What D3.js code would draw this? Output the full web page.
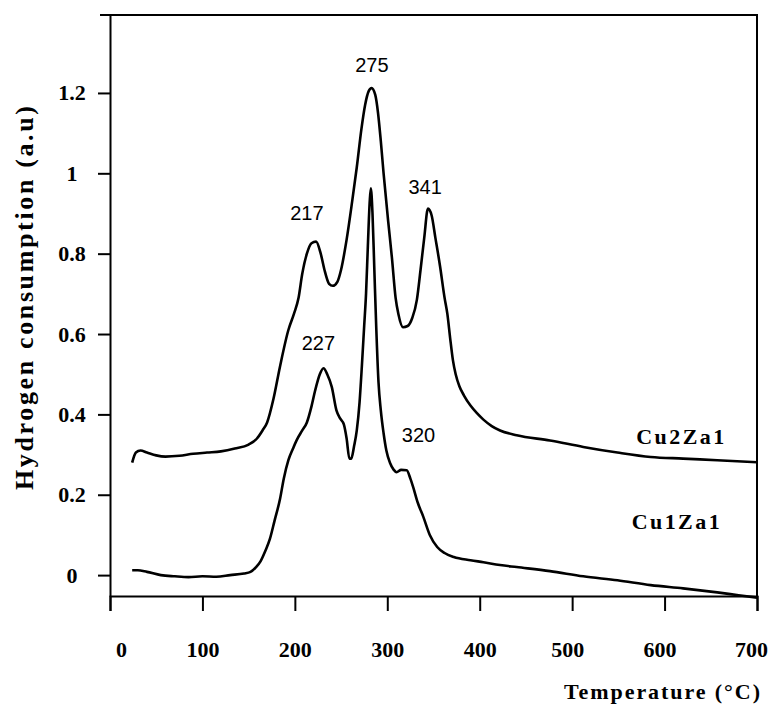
<!DOCTYPE html>
<html>
<head>
<meta charset="utf-8">
<script src="https://cdn.jsdelivr.net/npm/d3@7"></script>
<style>
  html, body { margin: 0; padding: 0; background: #fff; }
  svg { display: block; }
</style>
</head>
<body>
<svg id="chart" width="770" height="709"></svg>
<script>
// ---------------- data ----------------
const xTickValues = [0, 100, 200, 300, 400, 500, 600, 700];
const yTickValues = [0, 0.2, 0.4, 0.6, 0.8, 1, 1.2];

const cu2Temp = [24, 28, 33, 40, 50, 60, 75, 90, 105, 120, 135, 150, 159, 165, 170, 177, 184, 193, 199, 204, 208, 213, 218, 223, 228, 232, 237, 241, 246, 250, 256, 262, 267, 272, 276, 280, 283, 287, 290, 293, 296, 301, 305, 309, 312, 317, 322, 327, 332, 336, 340, 344, 348, 352, 357, 362, 365, 368, 371, 374, 378, 383, 390, 397, 404, 413, 422, 440, 476, 512, 549, 585, 620, 657, 700];
const cu2Value = [0.28, 0.305, 0.31, 0.305, 0.298, 0.295, 0.297, 0.302, 0.305, 0.308, 0.315, 0.325, 0.34, 0.36, 0.38, 0.44, 0.52, 0.61, 0.65, 0.69, 0.75, 0.80, 0.826, 0.83, 0.80, 0.76, 0.725, 0.72, 0.73, 0.76, 0.835, 0.93, 1.015, 1.11, 1.17, 1.205, 1.212, 1.195, 1.15, 1.08, 1.0, 0.88, 0.79, 0.69, 0.65, 0.617, 0.62, 0.64, 0.685, 0.76, 0.84, 0.912, 0.895, 0.84, 0.77, 0.69, 0.65, 0.59, 0.535, 0.5, 0.47, 0.447, 0.422, 0.403, 0.387, 0.371, 0.36, 0.348, 0.335, 0.319, 0.305, 0.294, 0.29, 0.286, 0.281];

const cu1Temp = [24, 30, 40, 55, 70, 85, 100, 115, 130, 145, 152, 158, 163, 168, 173, 178, 184, 188, 193, 198, 202, 208, 213, 218, 222, 227, 231, 235, 240, 245, 249, 253, 256, 259, 261, 264, 267, 270, 272.5, 275, 277, 279, 281, 282.2, 284, 286, 288, 290.5, 293, 296, 299, 303, 307, 310, 315, 321, 325, 328, 333, 339, 346, 354, 362, 372, 390, 404, 422, 440, 476, 512, 549, 585, 620, 657, 680, 700];
const cu1Value = [0.012, 0.012, 0.008, 0.0, -0.003, -0.005, -0.003, -0.004, 0.0, 0.004, 0.008, 0.02, 0.035, 0.06, 0.09, 0.135, 0.19, 0.24, 0.286, 0.315, 0.336, 0.36, 0.38, 0.42, 0.46, 0.5, 0.515, 0.5, 0.468, 0.41, 0.39, 0.375, 0.34, 0.29, 0.29, 0.32, 0.36, 0.43, 0.52, 0.62, 0.7, 0.82, 0.93, 0.963, 0.9, 0.76, 0.62, 0.48, 0.41, 0.353, 0.31, 0.279, 0.262, 0.256, 0.262, 0.261, 0.24, 0.219, 0.18, 0.145, 0.1, 0.07, 0.055, 0.045, 0.037, 0.032, 0.025, 0.02, 0.01, -0.003, -0.013, -0.025, -0.033, -0.043, -0.05, -0.056];

// peak annotations (text, anchor temperature, anchor value)
const peakLabels = ["275", "217", "341", "227", "320"];
const peakLabelTemp = [283.3, 213, 341, 225.5, 333.8];
const peakLabelValue = [1.27, 0.901, 0.966, 0.578, 0.349];

// series names and their label anchors
const seriesNames = ["Cu2Za1", "Cu1Za1"];
const seriesLabelTemp = [617, 612];
const seriesLabelValue = [0.345, 0.135];

const xTitle = "Temperature (°C)";
const yTitle = "Hydrogen consumption (a.u)";

// ---------------- layout ----------------
const svg = d3.select("#chart");
const plotLeft = 110, plotRight = 757, plotTop = 15, plotBottom = 596;

const x = d3.scaleLinear().domain([0, 700]).range([plotLeft, plotRight]);
const y = d3.scaleLinear().domain([-0.052, 1.394]).range([plotBottom, plotTop]);

const serif = "'Liberation Serif', 'Times New Roman', serif";
const sans = "'Liberation Sans', Arial, sans-serif";

// frame: top and right
svg.append("line").attr("x1", plotLeft - 10).attr("x2", plotRight + 1)
  .attr("y1", plotTop).attr("y2", plotTop)
  .attr("stroke", "#000").attr("stroke-width", 2);
svg.append("line").attr("x1", plotRight).attr("x2", plotRight)
  .attr("y1", plotTop).attr("y2", plotBottom)
  .attr("stroke", "#000").attr("stroke-width", 2);

// x axis
const xAxis = svg.append("g")
  .attr("transform", `translate(0,${plotBottom})`)
  .call(d3.axisBottom(x).tickValues(xTickValues).tickSize(15).tickSizeOuter(15).tickPadding(30).tickFormat(d => String(d)));
xAxis.select(".domain").attr("stroke-width", 2);
xAxis.selectAll(".tick line").attr("stroke-width", 2);
xAxis.selectAll(".tick text")
  .attr("font-family", serif).attr("font-weight", "bold").attr("font-size", 22)
  .attr("fill", "#000")
  .attr("dx", d => d === 0 ? 11 : (d === 700 ? -6 : (d >= 500 ? -5 : 0)));

// y axis
const yAxis = svg.append("g")
  .attr("transform", `translate(${plotLeft},0)`)
  .call(d3.axisLeft(y).tickValues(yTickValues).tickSize(12).tickSizeOuter(0).tickFormat(d => String(d)));
yAxis.select(".domain").attr("stroke-width", 2);
yAxis.selectAll(".tick line").attr("stroke-width", 2);
yAxis.selectAll(".tick text")
  .attr("x", -38).attr("text-anchor", "middle")
  .attr("font-family", serif).attr("font-weight", "bold").attr("font-size", 22)
  .attr("fill", "#000");

// curves
const line = d3.line()
  .x(d => x(d[0]))
  .y(d => y(d[1]))
  .curve(d3.curveMonotoneX);

const series = [
  d3.zip(cu2Temp, cu2Value),
  d3.zip(cu1Temp, cu1Value)
];
svg.append("g").selectAll("path")
  .data(series)
  .join("path")
  .attr("d", line)
  .attr("fill", "none")
  .attr("stroke", "#000")
  .attr("stroke-width", 2.6)
  .attr("stroke-linejoin", "round");

// peak labels
svg.append("g").selectAll("text")
  .data(peakLabels)
  .join("text")
  .attr("x", (d, i) => x(peakLabelTemp[i]))
  .attr("y", (d, i) => y(peakLabelValue[i]))
  .attr("dy", "0.36em")
  .attr("text-anchor", "middle")
  .attr("font-family", sans)
  .attr("font-size", 20)
  .attr("fill", "#000")
  .text(d => d);

// series labels
svg.append("g").selectAll("text")
  .data(seriesNames)
  .join("text")
  .attr("x", (d, i) => x(seriesLabelTemp[i]))
  .attr("y", (d, i) => y(seriesLabelValue[i]))
  .attr("dy", "0.35em")
  .attr("text-anchor", "middle")
  .attr("font-family", serif)
  .attr("font-weight", "bold")
  .attr("font-size", 22)
  .attr("textLength", 88)
  .attr("lengthAdjust", "spacing")
  .attr("fill", "#000")
  .text(d => d);

// axis titles
svg.append("text")
  .attr("x", 662).attr("y", 699)
  .attr("text-anchor", "middle")
  .attr("font-family", serif).attr("font-weight", "bold").attr("font-size", 22)
  .attr("textLength", 196).attr("lengthAdjust", "spacing")
  .attr("fill", "#000")
  .text(xTitle);

svg.append("text")
  .attr("transform", "translate(33,298) rotate(-90)")
  .attr("text-anchor", "middle")
  .attr("font-family", serif).attr("font-weight", "bold").attr("font-size", 26)
  .attr("textLength", 384).attr("lengthAdjust", "spacing")
  .attr("fill", "#000")
  .text(yTitle);
</script>
</body>
</html>
